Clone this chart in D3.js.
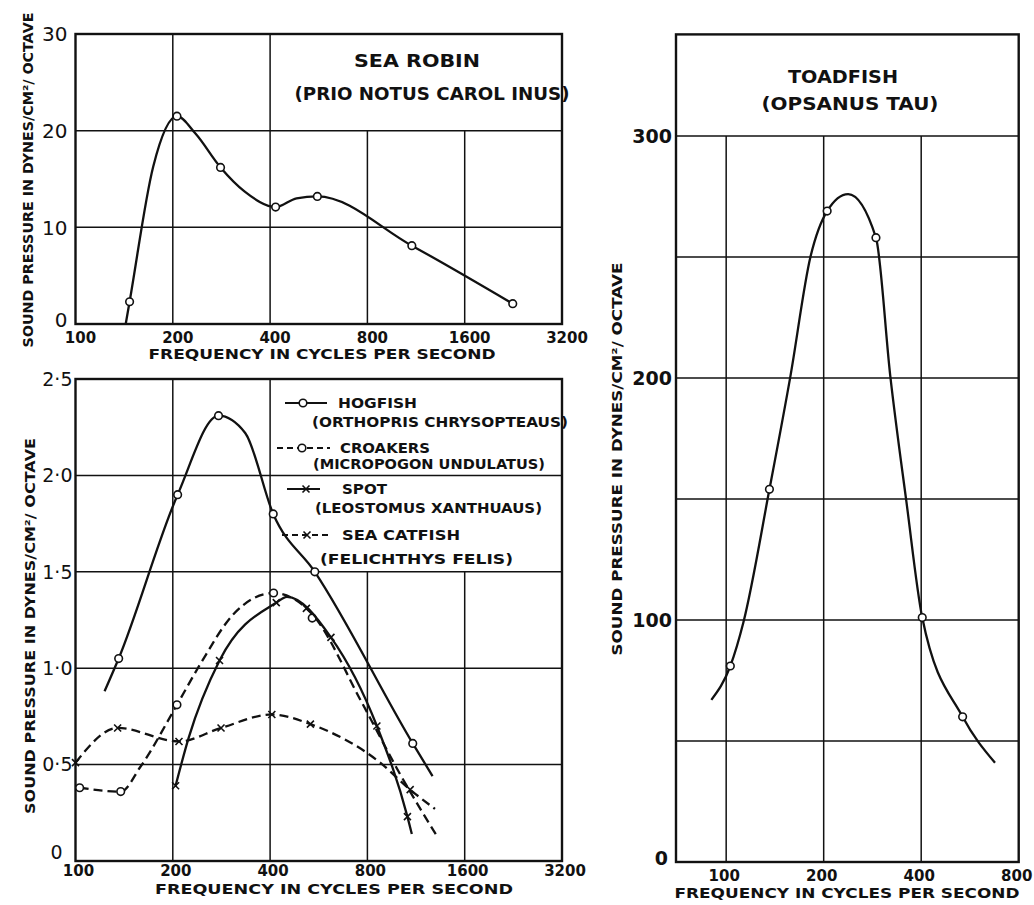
<!DOCTYPE html>
<html>
<head>
<meta charset="utf-8">
<script src="https://cdn.jsdelivr.net/npm/d3@7"></script>
<style>
  html, body { margin:0; padding:0; background:#fff; }
  svg { display:block; background:#fff; }
  text { font-family:"DejaVu Sans", sans-serif; fill:#111; }
</style>
</head>
<body>
<svg id="chart" width="1034" height="905"></svg>
<script>
// Data (frequency in c/s, pressure in dynes/cm²/octave)

const FREQ_WIDE = [100, 200, 400, 800, 1600, 3200];
const FREQ_TOAD = [100, 200, 400, 800];
const ROBIN_Y   = [0, 10, 20, 30];
const SMALL_Y   = [0, 0.5, 1, 1.5, 2, 2.5];
const SMALL_Y_LABELS = ["0", "0·5", "1·0", "1·5", "2·0", "2·5"];
const TOAD_Y    = [0, 100, 200, 300];
const TOAD_GRID = [50, 100, 150, 200, 250, 300];

// sea robin
const robinCurve = [[143,0],[147,2.3],[174,16.3],[206,21.5],[235,19.7],[281,16.2],[334,13.7],[416,12.1],[483,13.0],[560,13.2],[1098,8.1],[2253,2.1]];
const robinPts   = [[147,2.3],[206,21.5],[281,16.2],[416,12.1],[560,13.2],[1098,8.1],[2253,2.1]];

// hogfish
const hogCurve = [[123,0.88],[136,1.05],[207,1.90],[277,2.31],[335,2.22],[409,1.80],[550,1.50],[1105,0.61],[1273,0.44]];
const hogPts   = [[136,1.05],[207,1.90],[277,2.31],[409,1.80],[550,1.50],[1105,0.61]];

// croakers
const croakCurve = [[103,0.38],[138,0.36],[159,0.49],[206,0.81],[243,1.02],[308,1.28],[410,1.39],[540,1.28],[770,0.82],[1010,0.45],[1312,0.13]];
const croakPts   = [[103,0.38],[138,0.36],[206,0.81],[410,1.39],[540,1.26]];

// spot
const spotCurve = [[204,0.39],[224,0.64],[279,1.04],[418,1.34],[451,1.37],[617,1.16],[856,0.70],[1064,0.23],[1098,0.14]];
const spotPts   = [[204,0.39],[279,1.04],[418,1.34],[518,1.31],[617,1.16],[856,0.70],[1064,0.23]];

// sea catfish
const catCurve = [[100,0.51],[135,0.69],[209,0.62],[282,0.69],[405,0.76],[533,0.71],[876,0.51],[1085,0.37],[1295,0.27]];
const catPts   = [[100,0.51],[135,0.69],[209,0.62],[282,0.69],[405,0.76],[533,0.71],[1085,0.37]];

// toadfish
const toadCurve = [[90,67],[103,81],[113,99],[136,154],[158,201],[182,250],[205,269],[238,276],[290,258],[321,201],[360,149],[403,101],[537,60],[676,41]];
const toadPts   = [[103,81],[136,154],[205,269],[290,258],[403,101],[537,60]];

// Setup
const svg = d3.select("#chart");
const INK = "#111";
const Y_TITLE = "SOUND PRESSURE IN DYNES/CM²/ OCTAVE";
const X_TITLE = "FREQUENCY IN CYCLES PER SECOND";

const panels = {
  robin: {
    x: d3.scaleLog().base(2).domain([100, 3200]).range([75.5, 562]),
    y: d3.scaleLinear().domain([0, 30]).range([324, 34]),
    hGrid: [10, 20], vGrid: [200, 400, 800, 1600],
    box: { x: 400, y: 20 },
    yTicks: ROBIN_Y, yFmt: d => d, yFont: 20, yWeight: "normal", yDx: -8,
    zero: { dx: 0, dy: -4 },
    xTicks: FREQ_WIDE, xDx: 5, xDy: 14,
    xTitle: { x: 322, y: 354, len: 347 },
    yTitle: { x: 28, y: 180, len: 335 }
  },
  small: {
    x: d3.scaleLog().base(2).domain([100, 3200]).range([75.5, 562]),
    y: d3.scaleLinear().domain([0, 2.5]).range([861, 379]),
    hGrid: [0.5, 1, 1.5, 2], vGrid: [200, 400, 800, 1600],
    box: { x: 400, y: 1.5 },
    yTicks: SMALL_Y, yFmt: (d, i) => SMALL_Y_LABELS[i], yFont: 19, yWeight: "normal", yDx: -3,
    zero: { dx: -10, dy: -9 },
    xTicks: FREQ_WIDE, xDx: 3, xDy: 10,
    xTitle: { x: 334, y: 889, len: 358 },
    yTitle: { x: 30, y: 626, len: 376 }
  },
  toad: {
    x: d3.scaleLog().base(2).domain([70, 800]).range([676, 1018.7]),
    y: d3.scaleLinear().domain([0, 342]).range([862, 34.4]),
    hGrid: TOAD_GRID, vGrid: [100, 200, 400],
    box: { x: 0, y: 300 },
    yTicks: TOAD_Y, yFmt: d => d, yFont: 19, yWeight: "bold", yDx: -4,
    zero: { dx: -4, dy: -4 },
    xTicks: FREQ_TOAD, xDx: -2, xDy: 14,
    xTitle: { x: 847, y: 893, len: 345 },
    yTitle: { x: 617, y: 459, len: 393 }
  }
};

function txt(g, s, x, y, size, o = {}) {
  const t = g.append("text")
    .attr("x", x).attr("y", y)
    .attr("dy", "0.36em")
    .attr("font-size", size + "px")
    .attr("font-weight", o.weight || "bold")
    .attr("text-anchor", o.anchor || "middle")
    .text(s);
  if (o.len) t.attr("textLength", o.len).attr("lengthAdjust", "spacingAndGlyphs");
  if (o.rotate) t.attr("transform", `rotate(-90,${x},${y})`);
  return t;
}

// Frame, grid and axes for one panel
function drawPanel(p) {
  const g = svg.append("g");
  const [xl, xr] = p.x.range();
  const [yb, yt] = p.y.range();

  g.selectAll("line.h").data(p.hGrid).join("line").attr("class", "h")
    .attr("x1", xl).attr("x2", xr)
    .attr("y1", d => p.y(d)).attr("y2", d => p.y(d))
    .attr("stroke", INK).attr("stroke-width", 1.5);

  g.selectAll("line.v").data(p.vGrid).join("line").attr("class", "v")
    .attr("x1", d => p.x(d)).attr("x2", d => p.x(d))
    .attr("y1", d => d > p.box.x ? p.y(p.box.y) : yt).attr("y2", yb)
    .attr("stroke", INK).attr("stroke-width", 1.5);

  g.append("rect")
    .attr("x", xl).attr("y", yt)
    .attr("width", xr - xl).attr("height", yb - yt)
    .attr("fill", "none").attr("stroke", INK).attr("stroke-width", 2.4);

  // the "0" label sits a little higher and further out in the original
  p.yTicks.forEach((d, i) => {
    const z = d === 0 ? p.zero : { dx: 0, dy: 0 };
    txt(g, p.yFmt(d, i), xl + p.yDx + z.dx, p.y(d) + z.dy, p.yFont,
      { anchor: "end", weight: p.yWeight });
  });

  p.xTicks.forEach(d => txt(g, d, p.x(d) + p.xDx, yb + p.xDy, 15));

  txt(g, X_TITLE, p.xTitle.x, p.xTitle.y, 14, { len: p.xTitle.len });
  txt(g, Y_TITLE, p.yTitle.x, p.yTitle.y, 14, { len: p.yTitle.len, rotate: true });
  return g;
}

function drawSeries(g, p, curve, pts, opt) {
  const line = d3.line()
    .x(d => p.x(d[0])).y(d => p.y(d[1]))
    .curve(d3.curveMonotoneX);
  g.append("path").attr("d", line(curve))
    .attr("fill", "none").attr("stroke", INK)
    .attr("stroke-width", 2.3)
    .attr("stroke-dasharray", opt.dashed ? "9 5" : null);
  marker(g, pts.map(d => [p.x(d[0]), p.y(d[1])]), opt.mark);
}

function marker(g, xy, kind) {
  if (kind === "o") {
    g.selectAll(null).data(xy).join("circle")
      .attr("cx", d => d[0]).attr("cy", d => d[1]).attr("r", 3.8)
      .attr("fill", "#fff").attr("stroke", INK).attr("stroke-width", 1.6);
  } else {
    const s = 3.5;
    const m = g.selectAll(null).data(xy).join("g")
      .attr("transform", d => `translate(${d[0]},${d[1]})`);
    m.append("path").attr("d", `M${-s},${-s}L${s},${s}M${-s},${s}L${s},${-s}`)
      .attr("stroke", INK).attr("stroke-width", 1.6);
  }
}

// Sea robin
const gR = drawPanel(panels.robin);
drawSeries(gR, panels.robin, robinCurve, robinPts, { mark: "o" });
txt(gR, "SEA ROBIN", 417, 61, 18, { len: 126 });
txt(gR, "(PRIO NOTUS CAROL INUS)", 432, 94, 17, { len: 275 });

// Four small species
const gS = drawPanel(panels.small);
drawSeries(gS, panels.small, catCurve, catPts, { dashed: true, mark: "x" });
drawSeries(gS, panels.small, croakCurve, croakPts, { dashed: true, mark: "o" });
drawSeries(gS, panels.small, spotCurve, spotPts, { mark: "x" });
drawSeries(gS, panels.small, hogCurve, hogPts, { mark: "o" });

// Legend
const legend = [
  { name: "HOGFISH", latin: "(ORTHOPRIS CHRYSOPTEAUS)", dashed: false, mark: "o",
    y: 403, sx: [285, 327], mx: 303, tx: 338, tl: 79, ly: 422, lx: 312, ll: 256 },
  { name: "CROAKERS", latin: "(MICROPOGON UNDULATUS)", dashed: true, mark: "o",
    y: 448, sx: [277, 330], mx: 302, tx: 340, tl: 90, ly: 464, lx: 313, ll: 232 },
  { name: "SPOT", latin: "(LEOSTOMUS XANTHUAUS)", dashed: false, mark: "x",
    y: 489, sx: [287, 320], mx: 306, tx: 342, tl: 45, ly: 508, lx: 315, ll: 227 },
  { name: "SEA CATFISH", latin: "(FELICHTHYS FELIS)", dashed: true, mark: "x",
    y: 535, sx: [282, 332], mx: 307, tx: 342, tl: 118, ly: 559, lx: 320, ll: 193 }
];
legend.forEach(e => {
  gS.append("line").attr("x1", e.sx[0]).attr("x2", e.sx[1])
    .attr("y1", e.y).attr("y2", e.y)
    .attr("stroke", INK).attr("stroke-width", 2)
    .attr("stroke-dasharray", e.dashed ? "6 4" : null);
  marker(gS, [[e.mx, e.y]], e.mark);
  txt(gS, e.name, e.tx, e.y, 14, { anchor: "start", len: e.tl });
  txt(gS, e.latin, e.lx, e.ly, 14, { anchor: "start", len: e.ll });
});

// Toadfish
const gT = drawPanel(panels.toad);
drawSeries(gT, panels.toad, toadCurve, toadPts, { mark: "o" });
txt(gT, "TOADFISH", 843, 77, 18, { len: 110 });
txt(gT, "(OPSANUS TAU)", 850, 104, 18, { len: 177 });
</script>
</body>
</html>
